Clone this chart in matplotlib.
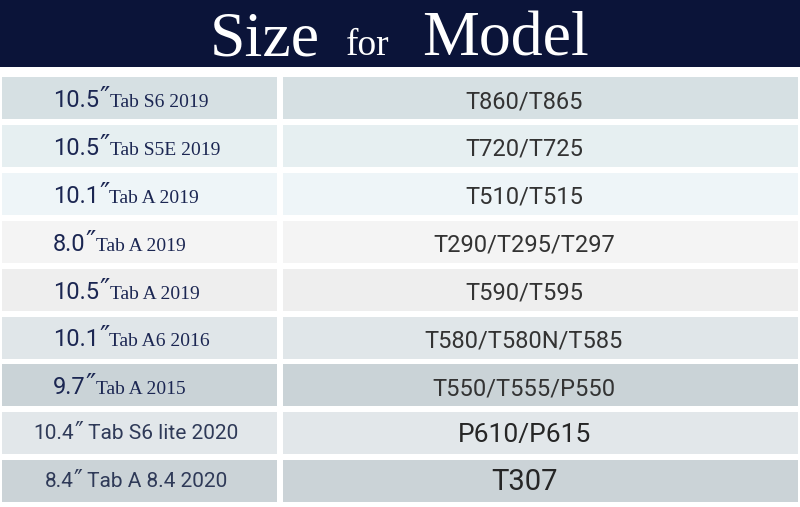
import matplotlib

matplotlib.use("Agg")
import matplotlib.pyplot as plt
from matplotlib.patches import Rectangle

# table content
sizes = ["10.5\u2033", "10.5\u2033", "10.1\u2033", "8.0\u2033", "10.5\u2033",
         "10.1\u2033", "9.7\u2033", "10.4\u2033", "8.4\u2033"]
names = ["Tab S6 2019", "Tab S5E 2019", "Tab A 2019", "Tab A 2019", "Tab A 2019",
         "Tab A6 2016", "Tab A 2015", "Tab S6 lite 2020", "Tab A 8.4 2020"]
models = ["T860/T865", "T720/T725", "T510/T515", "T290/T295/T297", "T590/T595",
          "T580/T580N/T585", "T550/T555/P550", "P610/P615", "T307"]
row_colors = ["#d6e0e3", "#e6eff1", "#eef5f8", "#f4f4f4", "#eeeeee",
              "#e0e6e9", "#cad3d7", "#e2e7ea", "#cbd3d7"]

NAVY = "#0b1439"
SANS = ["Roboto", "DejaVu Sans"]
PRIME = ["DejaVu Sans"]
SERIF = ["Liberation Serif", "DejaVu Serif"]

fig = plt.figure(figsize=(8.0, 5.07), dpi=100)
ax = fig.add_axes([0, 0, 1, 1])
ax.set_xlim(0, 800)
ax.set_ylim(507, 0)
ax.set_axis_off()

renderer = fig.canvas.get_renderer()
inv = ax.transData.inverted()


def right_edge(t):
    return inv.transform(t.get_window_extent(renderer).get_points())[1, 0]


def run(x, y, parts):
    """draw text pieces one after another on a shared baseline"""
    out = []
    for s, kw in parts:
        t = ax.text(x, y, s, va="baseline", ha="left", **kw)
        x = right_edge(t)
        out.append(t)
    return out, x


# header band
ax.add_patch(Rectangle((0, 0), 800, 67, color=NAVY, lw=0))
ax.text(210, 55, "Size", family=SERIF, fontsize=46, color="white", va="baseline")
ax.text(346, 55, "for", family=SERIF, fontsize=27, color="white", va="baseline")
ax.text(422, 55, "Model", family=SERIF, fontsize=46, color="white", va="baseline")

top0, pitch, h = 77, 47.9, 42
for i, (sz, nm, md, col) in enumerate(zip(sizes, names, models, row_colors)):
    top = top0 + i * pitch
    ax.add_patch(Rectangle((2, top), 275, h, color=col, lw=0))
    ax.add_patch(Rectangle((283, top), 515, h, color=col, lw=0))
    num = sz.rstrip("\u2033")

    if i < 7:
        # big sans size + small serif model name, left aligned
        c = "#1b2652"
        run(53, top + 30, [
            (num, dict(family=SANS, fontsize=17, color=c)),
            ("\u2033", dict(family=PRIME, fontsize=20, color=c)),
            (nm, dict(family=SERIF, fontsize=14, color=c)),
        ])
        ax.text(524, top + 31, md, family=SANS, fontsize=17,
                color="#333333", va="baseline", ha="center")
    else:
        c = "#2f3a58"
        parts = [
            (num, dict(family=SANS, fontsize=15, color=c)),
            ("\u2033", dict(family=PRIME, fontsize=17, color=c)),
            (" " + nm, dict(family=SANS, fontsize=15, color=c)),
        ]
        texts, xend = run(0, top + 27, parts)
        shift = 136 - xend / 2
        for t in texts:
            x0, y0 = t.get_position()
            t.set_position((x0 + shift, y0))
        ax.text(524, top + 30, md, family=SANS, fontsize=19 if i == 7 else 21,
                color="#262626", va="baseline", ha="center")

fig.savefig("out.png", dpi=100, facecolor="white")
